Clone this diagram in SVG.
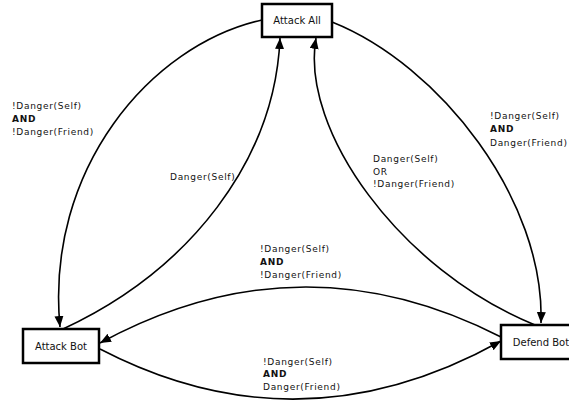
<svg xmlns="http://www.w3.org/2000/svg" width="569" height="404" viewBox="0 0 569 404">
<style>
.box{fill:#fff;stroke:#000;stroke-width:2.5}
.bt{font-family:"DejaVu Sans",sans-serif;font-size:10px;fill:#111;text-anchor:middle}
.lb{font-family:"DejaVu Sans",sans-serif;font-size:9px;letter-spacing:0.7px;fill:#111}
.b{font-weight:bold}
.e{fill:none;stroke:#000;stroke-width:1.6}
</style>
<defs>
<marker id="ah" markerUnits="userSpaceOnUse" markerWidth="12" markerHeight="10" refX="11" refY="4.5" orient="auto">
<path d="M0,0 L11,4.5 L0,9 z" fill="#000"/>
</marker>
</defs>
<rect width="569" height="404" fill="#fff"/>
<g id="connectors">
<path class="e" d="M262,20 C150,45 45,170 60,327" marker-end="url(#ah)"/>
<path class="e" d="M63,329 C190,270 275,160 280,38" marker-end="url(#ah)"/>
<path class="e" d="M535,325 C400,270 300,130 316,38" marker-end="url(#ah)"/>
<path class="e" d="M332,22 C440,65 545,200 541,323" marker-end="url(#ah)"/>
<path class="e" d="M501,337 Q300,234 100,343" marker-end="url(#ah)"/>
<path class="e" d="M100,349 Q300,453 501,341" marker-end="url(#ah)"/>
</g>
<g id="labels">
<text class="lb" x="12" y="108.5">!Danger(Self)</text>
<text class="lb b" x="12" y="121.5">AND</text>
<text class="lb" x="12" y="135">!Danger(Friend)</text>
<text class="lb" x="170" y="179.5">Danger(Self)</text>
<text class="lb" x="373" y="161.5">Danger(Self)</text>
<text class="lb" x="373" y="174.5">OR</text>
<text class="lb" x="373" y="187">!Danger(Friend)</text>
<text class="lb" x="490" y="118.5">!Danger(Self)</text>
<text class="lb b" x="490" y="132">AND</text>
<text class="lb" x="490" y="146">Danger(Friend)</text>
<text class="lb" x="260" y="251.5">!Danger(Self)</text>
<text class="lb b" x="260" y="265">AND</text>
<text class="lb" x="260" y="278">!Danger(Friend)</text>
<text class="lb" x="263" y="364.5">!Danger(Self)</text>
<text class="lb b" x="263" y="377">AND</text>
<text class="lb" x="263" y="390">Danger(Friend)</text>
</g>
<g id="attack-all">
<rect class="box" x="262" y="4" width="70" height="33"/>
<text class="bt" x="297" y="24">Attack All</text>
</g>
<g id="attack-bot">
<rect class="box" x="23" y="329" width="76" height="34"/>
<text class="bt" x="61" y="350">Attack Bot</text>
</g>
<g id="defend-bot">
<rect class="box" x="501" y="325" width="80" height="34"/>
<text class="bt" x="541" y="346">Defend Bot</text>
</g>
</svg>
